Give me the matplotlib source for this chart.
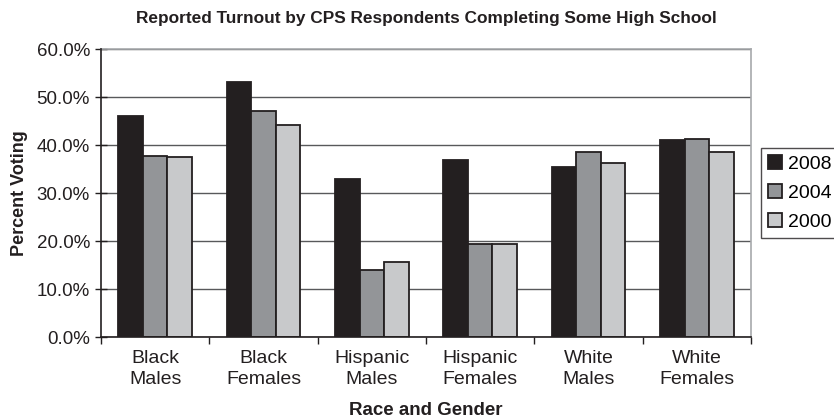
import numpy as np
import matplotlib
matplotlib.use("Agg")
import matplotlib.pyplot as plt
from matplotlib.ticker import FixedLocator, PercentFormatter

plt.rcParams["font.family"] = ["Liberation Sans", "DejaVu Sans"]

# data
categories = ["Black\nMales", "Black\nFemales", "Hispanic\nMales",
              "Hispanic\nFemales", "White\nMales", "White\nFemales"]
years = ["2008", "2004", "2000"]
turnout_2008 = [46.0, 53.1, 32.9, 36.9, 35.4, 41.0]
turnout_2004 = [37.8, 47.1, 13.9, 19.4, 38.6, 41.2]
turnout_2000 = [37.4, 44.1, 15.7, 19.4, 36.3, 38.5]
colors = ["#231f20", "#939598", "#c8c9cb"]

series = [turnout_2008, turnout_2004, turnout_2000]

fig = plt.figure(figsize=(8.34, 4.19), dpi=100)
ax = fig.add_axes([0.1211, 0.1957, 0.7794, 0.6873])

x = np.arange(len(categories))
w = 0.226
for i, (vals, year, c) in enumerate(zip(series, years, colors)):
    ax.bar(x + (i - 1) * w, vals, w, color=c, edgecolor="#231f20",
           linewidth=1.3, label=year, zorder=3)

ax.set_xlim(-0.5, len(categories) - 0.5)
ax.set_ylim(0, 60)
ax.set_yticks(np.arange(0, 61, 10))
ax.yaxis.set_major_formatter(PercentFormatter(decimals=1))
ax.grid(axis="y", color="#58595b", linewidth=1.0, zorder=0)

ax.set_xticks(x)
ax.set_xticklabels(categories, fontsize=14, linespacing=1.32)
ax.tick_params(axis="x", which="major", length=0, pad=9)
ax.xaxis.set_minor_locator(FixedLocator(np.arange(-0.5, len(categories), 1)))
ax.tick_params(axis="x", which="minor", length=5, direction="out", width=1, color="#231f20")
ax.tick_params(axis="y", direction="inout", length=9, width=1, labelsize=13.5,
               color="#231f20", labelcolor="#231f20")
ax.tick_params(axis="x", labelcolor="#231f20")

for s in ["left", "bottom"]:
    ax.spines[s].set_color("#231f20")
    ax.spines[s].set_linewidth(1.2)
    ax.spines[s].set_zorder(4)
for s in ["top", "right"]:
    ax.spines[s].set_color("#a7a9ac")
    ax.spines[s].set_linewidth(1.2)

ax.set_title("Reported Turnout by CPS Respondents Completing Some High School",
             fontsize=12.4, fontweight="bold", color="#231f20", pad=19)
ax.set_xlabel("Race and Gender", fontsize=13.5, fontweight="bold", color="#231f20", labelpad=10)
ax.set_ylabel("Percent Voting", fontsize=13, fontweight="bold", color="#231f20", labelpad=6)

leg = ax.legend(loc="center left", bbox_to_anchor=(1.016, 0.5), fontsize=14,
                frameon=True, fancybox=False, edgecolor="#231f20",
                handlelength=0.7, handleheight=0.7, handletextpad=0.3,
                borderpad=0.35, labelspacing=0.6, borderaxespad=0)
leg.get_frame().set_linewidth(1.0)

plt.savefig("out.png", dpi=100)
